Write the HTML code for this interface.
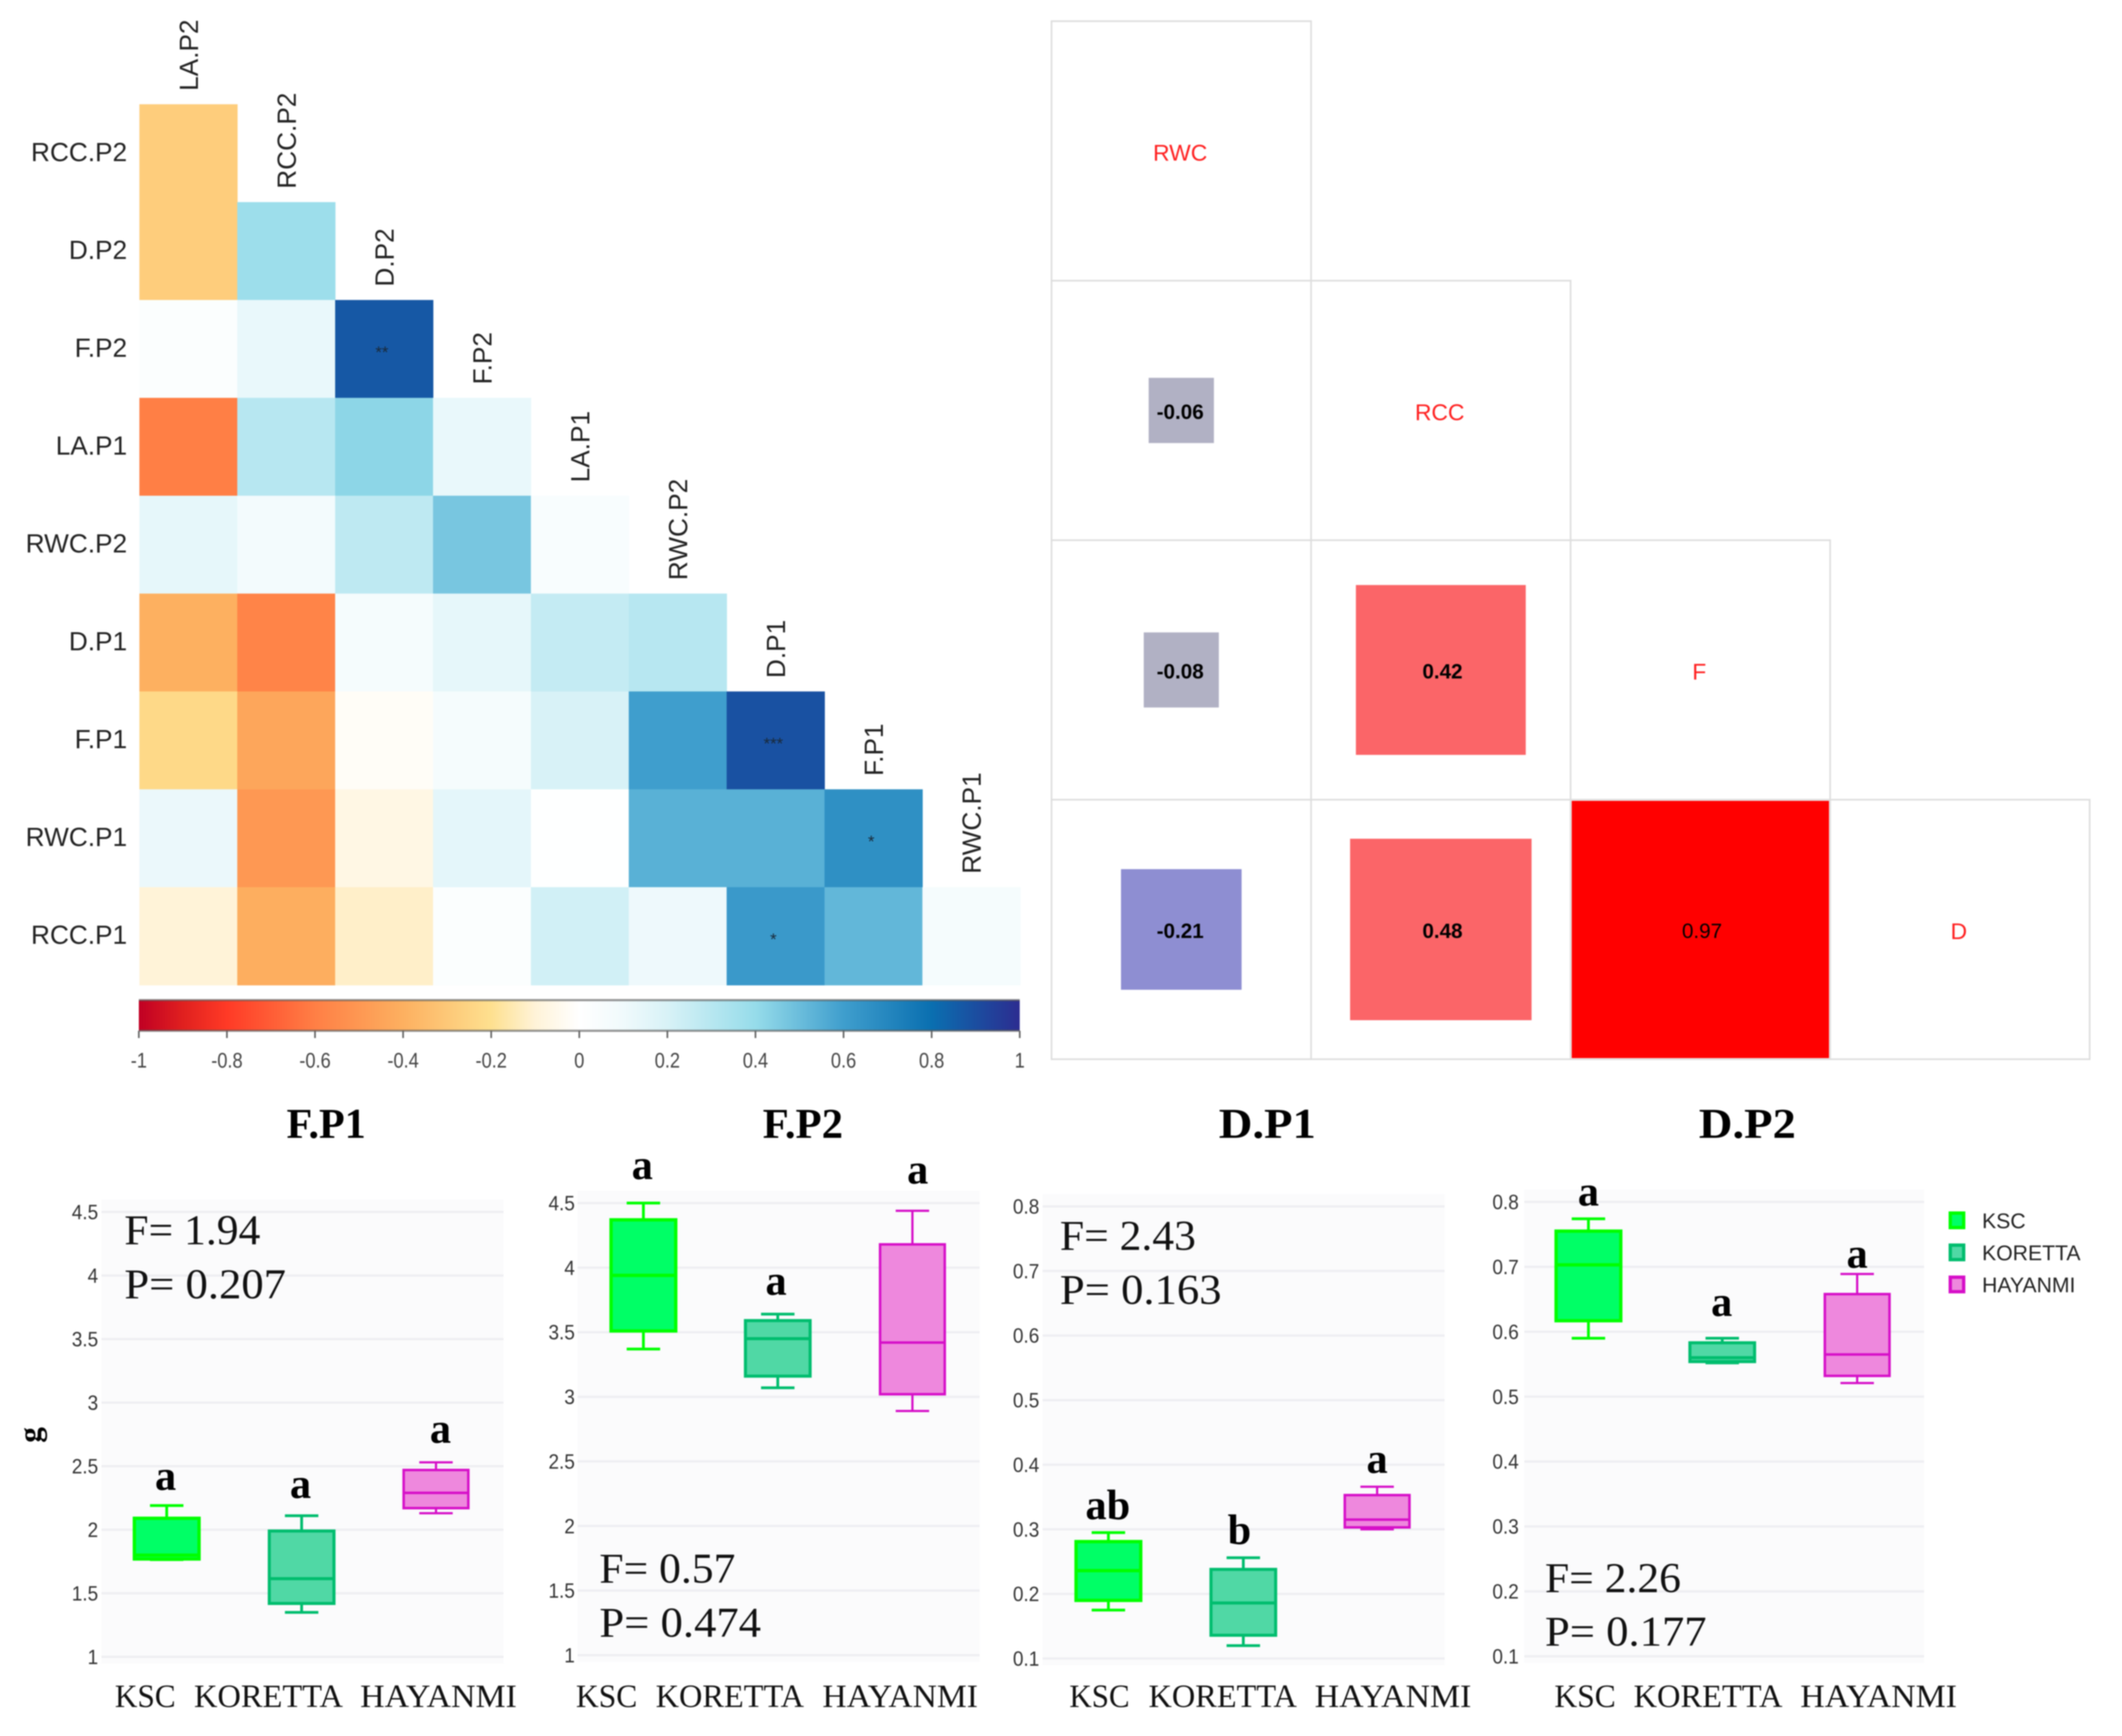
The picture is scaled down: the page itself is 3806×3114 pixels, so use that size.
<!DOCTYPE html>
<html lang="en">
<head>
<meta charset="utf-8">
<title>Correlation matrices and box plots</title>
<style>
  html, body { margin: 0; padding: 0; background: #ffffff; }
  #figure { display: block; width: 3806px; height: 3114px; filter: blur(1px); }
  text { font-family: "Liberation Sans", sans-serif; }
  .serif { font-family: "Liberation Serif", serif; }
</style>
</head>
<body>
<svg id="figure" xmlns="http://www.w3.org/2000/svg" width="3806" height="3114" viewBox="0 0 3806 3114">
  <defs>
    <linearGradient id="cbGrad" x1="0" x2="1" y1="0" y2="0"></linearGradient>
  </defs>
  <rect x="0" y="0" width="3806" height="3114" fill="#ffffff"/>
  <g id="heatmap"></g>
  <g id="colorbar"></g>
  <g id="corr"></g>
  <g id="boxes"></g>
  <g id="legend"></g>
  <text class="serif" x="72" y="2574" font-size="56" font-weight="bold" text-anchor="middle" transform="rotate(-90 72 2574)" fill="#000">g</text>
</svg>
<script>
// ---------- Heatmap data ----------
const heatRows = ['RCC.P2','D.P2','F.P2','LA.P1','RWC.P2','D.P1','F.P1','RWC.P1','RCC.P1'];
const heatCols = ['LA.P2','RCC.P2','D.P2','F.P2','LA.P1','RWC.P2','D.P1','F.P1','RWC.P1'];
const heatValues = [
  [-0.28],
  [-0.28, 0.38],
  [0.03, 0.13, 0.87],
  [-0.60, 0.30, 0.42, 0.13],
  [0.14, 0.08, 0.28, 0.47, 0.05],
  [-0.40, -0.58, 0.07, 0.14, 0.26, 0.30],
  [-0.23, -0.44, -0.02, 0.07, 0.20, 0.60, 0.89],
  [0.12, -0.50, -0.07, 0.15, 0.01, 0.54, 0.54, 0.66],
  [-0.10, -0.41, -0.12, 0.03, 0.22, 0.11, 0.62, 0.52, 0.07]
];
const heatStars = [
  [''],
  ['', ''],
  ['', '', '**'],
  ['', '', '', ''],
  ['', '', '', '', ''],
  ['', '', '', '', '', ''],
  ['', '', '', '', '', '', '***'],
  ['', '', '', '', '', '', '', '*'],
  ['', '', '', '', '', '', '*', '', '']
];
const colorTicks = [-1,-0.8,-0.6,-0.4,-0.2,0,0.2,0.4,0.6,0.8,1];
const colorStopValues = [-1,-0.9,-0.8,-0.6,-0.4,-0.2,-0.1,0,0.1,0.2,0.4,0.6,0.8,1];
const colorStopColors = ['#c00024','#e0201f','#ff3a26','#ff7f45','#fdb060','#fee08f','#fff3d8','#ffffff','#f0fafc','#d8f2f7','#96dcea','#3f9ecd','#0a6fb0','#2c2c90'];

// ---------- Correlation matrix data ----------
const corrVars = ['RWC','RCC','F','D'];
const corrValues = [
  [],
  [-0.06],
  [-0.08, 0.42],
  [-0.21, 0.48, 0.97]
];

// ---------- Box plot data: [low, q1, median, q3, high] ----------
const categories = ['KSC','KORETTA','HAYANMI'];
const fTicks = [1,1.5,2,2.5,3,3.5,4,4.5];
const dTicks = [0.1,0.2,0.3,0.4,0.5,0.6,0.7,0.8];
const fP1Ksc = [1.765,1.77,1.80,2.09,2.19];
const fP1Koretta = [1.35,1.42,1.615,1.99,2.11];
const fP1Hayanmi = [2.13,2.17,2.29,2.47,2.53];
const fP2Ksc = [3.37,3.51,3.94,4.37,4.50];
const fP2Koretta = [3.07,3.16,3.45,3.59,3.64];
const fP2Hayanmi = [2.89,3.02,3.42,4.18,4.44];
const dP1Ksc = [0.175,0.19,0.236,0.281,0.295];
const dP1Koretta = [0.12,0.136,0.186,0.238,0.256];
const dP1Hayanmi = [0.30,0.303,0.315,0.353,0.366];
const dP2Ksc = [0.59,0.617,0.703,0.755,0.774];
const dP2Koretta = [0.552,0.554,0.56,0.583,0.59];
const dP2Hayanmi = [0.521,0.532,0.565,0.658,0.689];
const fP1Letters = ['a','a','a'];
const fP2Letters = ['a','a','a'];
const dP1Letters = ['ab','b','a'];
const dP2Letters = ['a','a','a'];

// ---------- Helpers ----------
const NS = 'http://www.w3.org/2000/svg';
function mk(tag, attrs, parent, txt) {
  const el = document.createElementNS(NS, tag);
  for (const k in attrs) el.setAttribute(k, attrs[k]);
  if (txt !== undefined) el.textContent = txt;
  parent.appendChild(el);
  return el;
}
function hex2rgb(h) { return [1,3,5].map(i => parseInt(h.substr(i,2),16)); }
function heatColor(v) {
  for (let i = 0; i < colorStopValues.length - 1; i++) {
    if (v <= colorStopValues[i+1]) {
      const t = (v - colorStopValues[i]) / (colorStopValues[i+1] - colorStopValues[i]);
      const a = hex2rgb(colorStopColors[i]), b = hex2rgb(colorStopColors[i+1]);
      return 'rgb(' + a.map((c,j) => Math.round(c + (b[j]-c)*t)).join(',') + ')';
    }
  }
  return colorStopColors[colorStopColors.length-1];
}

// ---------- Heatmap ----------
const heatG = document.getElementById('heatmap');
const hmX = 250, hmY = 187, hmCell = 175.55;
const hmColX = i => hmX + i * hmCell;
const hmRowY = i => hmY + i * hmCell;
heatValues.forEach((row, r) => {
  row.forEach((v, c) => {
    const cell = mk('rect', {x: hmColX(c), y: hmRowY(r), width: hmCell + 0.6, height: hmCell + 0.6, fill: heatColor(v)}, heatG);
    
    
    const s = heatStars[r][c];
    if (s) {
      const st = mk('text', {x: hmColX(c) + hmCell/2 - 4, y: hmRowY(r) + hmCell/2 + 16, 'font-size': 30, 'text-anchor': 'middle', fill: '#1a2a3a'}, heatG, s);
      
      
    }
  });
  const lab = mk('text', {x: 228, y: hmRowY(r) + hmCell/2 + 14, 'font-size': 47, 'text-anchor': 'end', fill: '#222'}, heatG, heatRows[r]);
  
  
});
heatCols.forEach((name, c) => {
  const x = hmColX(c) + hmCell/2 + 17, y = hmRowY(c) - 24;
  const lab = mk('text', {x: x, y: y, 'font-size': 47, transform: 'rotate(-90 ' + x + ' ' + y + ')', fill: '#222'}, heatG, name);
  
  
});

// ---------- Colorbar ----------
const cbG = document.getElementById('colorbar');
const grad = document.getElementById('cbGrad');
colorStopValues.forEach((v, i) => {
  mk('stop', {offset: ((v + 1) / 2 * 100) + '%', 'stop-color': colorStopColors[i]}, grad);
});
const cbX0 = 249, cbX1 = 1829, cbTop = 1794, cbBot = 1849;
const cbScale = v => cbX0 + (v + 1) / 2 * (cbX1 - cbX0);
const cbRect = mk('rect', {x: cbX0, y: cbTop, width: cbX1 - cbX0, height: cbBot - cbTop, fill: 'url(#cbGrad)'}, cbG);


[cbTop, cbBot].forEach(y => {
  const ln = mk('line', {x1: cbX0, x2: cbX1, y1: y, y2: y, stroke: '#555', 'stroke-opacity': 0.6, 'stroke-width': 4}, cbG);
  
  
});
colorTicks.forEach(t => {
  const x = cbScale(t);
  const tk = mk('line', {x1: x, x2: x, y1: cbBot, y2: 1862, stroke: '#666', 'stroke-width': 3}, cbG);
  
  
  const lb = mk('text', {x: x, y: 1915, 'font-size': 38, 'text-anchor': 'middle', fill: '#444'}, cbG, String(t));
  
  
  lb.setAttribute('textLength', (lb.getComputedTextLength() * 0.86).toFixed(1));
  lb.setAttribute('lengthAdjust', 'spacingAndGlyphs');
});

// ---------- Correlation matrix ----------
const corrG = document.getElementById('corr');
const cmX = 1886, cmY = 38, cmCell = 465.5;
const cmColX = i => cmX + i * cmCell;
const cmRowY = i => cmY + i * cmCell;
function corrColor(r) {
  if (r >= 0.9) return '#ff0000';
  if (r >= 0.3) return '#fb6568';
  if (r <= -0.15) return '#8e8ed2';
  return '#b1b1c4';
}
corrVars.forEach((name, i) => {
  for (let c = 0; c <= i; c++) {
    const box = mk('rect', {x: cmColX(c), y: cmRowY(i), width: cmCell, height: cmCell, fill: 'none', stroke: '#dedede', 'stroke-width': 3}, corrG);
    
    
  }
});
corrVars.forEach((name, i) => {
  const cx = cmColX(i) + cmCell/2, cy = cmRowY(i) + cmCell/2;
  const lb = mk('text', {x: cx - 2, y: cy + 17, 'font-size': 41, 'text-anchor': 'middle', fill: '#ff2020'}, corrG, name);
  
  
  corrValues[i].forEach((r, c) => {
    const side = cmCell * Math.sqrt(Math.abs(r)) + 3;
    const x = cmColX(c) + cmCell/2, y = cmRowY(i) + cmCell/2;
    const sq = mk('rect', {x: x - side/2, y: y - side/2, width: side, height: side, fill: corrColor(r)}, corrG);
    
    
    const tv = mk('text', {x: x + (r < 0 ? -2 : 3), y: y + 15, 'font-size': 37, 'font-weight': r >= 0.9 ? 'normal' : 'bold', 'text-anchor': 'middle', fill: '#000'}, corrG, r.toFixed(2));
    
    
  });
});

// ---------- Box plots ----------
const boxG = document.getElementById('boxes');
const styles = [
  {stroke: '#00ff00', fill: '#00ff66', sw: 6, wsw: 5},
  {stroke: '#00bd6e', fill: '#50d8a5', sw: 5.5, wsw: 5},
  {stroke: '#d60fc8', fill: '#ee88dd', sw: 4.5, wsw: 4}
];
const panels = [
  {title:'F.P1', tcx:585, tlen:142, ticks:fTicks, left:182, right:903, yTop:2174, yBot:2972, tickX:176,
   cx:[299,541,782], series:[fP1Ksc,fP1Koretta,fP1Hayanmi], letters:fP1Letters, lx:[297,539,790], lgap:[28,32,35],
   stat:['F= 1.94','P= 0.207'], sx:223, sy:[2232,2329],
   cats:[[206,109],[348,267],[646,281]]},
  {title:'F.P2', tcx:1440, tlen:144, ticks:fTicks, left:1036, right:1757, yTop:2158, yBot:2969, tickX:1031,
   cx:[1154,1395,1636.5], series:[fP2Ksc,fP2Koretta,fP2Hayanmi], letters:fP2Letters, lx:[1152,1392,1646], lgap:[43,35,49],
   stat:['F= 0.57','P= 0.474'], sx:1075, sy:[2839,2936],
   cats:[[1033,110],[1176,266],[1475,279]]},
  {title:'D.P1', tcx:2273, tlen:174, ticks:dTicks, left:1870, right:2591, yTop:2164, yBot:2975, tickX:1864,
   cx:[1988,2230,2470], series:[dP1Ksc,dP1Koretta,dP1Hayanmi], letters:dP1Letters, lx:[1987,2223,2470], lgap:[24,25,25],
   stat:['F= 2.43','P= 0.163'], sx:1901, sy:[2242,2339],
   cats:[[1918,108],[2060,266],[2358,281]]},
  {title:'D.P2', tcx:3134, tlen:174, ticks:dTicks, left:2734, right:3451, yTop:2156, yBot:2971, tickX:2724,
   cx:[2849,3089,3331], series:[dP2Ksc,dP2Koretta,dP2Hayanmi], letters:dP2Letters, lx:[2849,3088,3331], lgap:[24,40,11],
   stat:['F= 2.26','P= 0.177'], sx:2771, sy:[2856,2952],
   cats:[[2788,110],[2930,267],[3229,281]]}
];
panels.forEach(p => {
  const lo = p.ticks[0], hi = p.ticks[p.ticks.length-1];
  const yS = v => p.yBot - (v - lo) / (hi - lo) * (p.yBot - p.yTop);

  const g = mk('g', {}, boxG);
  
  

  const title = mk('text', {class: 'serif', x: p.tcx, y: 2041, 'font-size': 76, 'font-weight': 'bold', 'text-anchor': 'middle', fill: '#000', textLength: p.tlen, lengthAdjust: 'spacingAndGlyphs'}, g, p.title);
  
  

  const bg = mk('rect', {x: p.left, y: p.yTop - 22, width: p.right - p.left, height: p.yBot - p.yTop + 34, fill: '#fbfbfc'}, g);
  
  

  p.ticks.forEach(t => {
    const y = yS(t);
    const gl = mk('line', {x1: p.left, x2: p.right, y1: y, y2: y, stroke: '#eeeef2', 'stroke-width': 4}, g);
    
    
    const tl = mk('text', {x: p.tickX, y: y + 13, 'font-size': 37, 'text-anchor': 'end', fill: '#333'}, g, String(t));
    
    
    tl.setAttribute('textLength', (tl.getComputedTextLength() * 0.92).toFixed(1));
    tl.setAttribute('lengthAdjust', 'spacingAndGlyphs');
  });

  p.series.forEach((d, i) => {
    const cx = p.cx[i], st = styles[i], hw = 58, cw = 30;
    const [wl, q1, med, q3, wh] = d;
    const whiskerUp = mk('line', {x1: cx, x2: cx, y1: yS(wh), y2: yS(q3), stroke: st.stroke, 'stroke-width': st.wsw}, g);
    
    
    const whiskerLo = mk('line', {x1: cx, x2: cx, y1: yS(q1), y2: yS(wl), stroke: st.stroke, 'stroke-width': st.wsw}, g);
    
    
    const capUp = mk('line', {x1: cx - cw, x2: cx + cw, y1: yS(wh), y2: yS(wh), stroke: st.stroke, 'stroke-width': st.wsw}, g);
    
    
    const capLo = mk('line', {x1: cx - cw, x2: cx + cw, y1: yS(wl), y2: yS(wl), stroke: st.stroke, 'stroke-width': st.wsw}, g);
    
    
    const box = mk('rect', {x: cx - hw, y: yS(q3), width: hw * 2, height: yS(q1) - yS(q3), fill: st.fill, stroke: st.stroke, 'stroke-width': st.sw}, g);
    
    
    const mline = mk('line', {x1: cx - hw, x2: cx + hw, y1: yS(med), y2: yS(med), stroke: st.stroke, 'stroke-width': st.sw}, g);
    
    
    const letter = mk('text', {class: 'serif', x: p.lx[i], y: yS(wh) - p.lgap[i], 'font-size': 76, 'font-weight': 'bold', 'text-anchor': 'middle', fill: '#000'}, g, p.letters[i]);
    
    
  });

  categories.forEach((name, i) => {
    const cl = mk('text', {class: 'serif', x: p.cats[i][0], y: 3062, 'font-size': 58, fill: '#111', textLength: p.cats[i][1], lengthAdjust: 'spacingAndGlyphs'}, g, name);
    
    
  });

  p.stat.forEach((s, i) => {
    const tx = mk('text', {class: 'serif', x: p.sx, y: p.sy[i], 'font-size': 76, fill: '#111', textLength: i === 0 ? 244 : 290, lengthAdjust: 'spacingAndGlyphs'}, g, s);
    
    
  });
});

// ---------- Legend ----------
const legendG = document.getElementById('legend');
categories.forEach((name, i) => {
  const y = 2176 + i * 57.5, st = styles[i];
  const sw = mk('rect', {x: 3498, y: y, width: 24, height: 26, fill: st.fill, stroke: st.stroke, 'stroke-width': 6}, legendG);
  
  
  const t = mk('text', {x: 3555, y: y + 27, 'font-size': 38, fill: '#222'}, legendG, name);
  
  
});
</script>
</body>
</html>
